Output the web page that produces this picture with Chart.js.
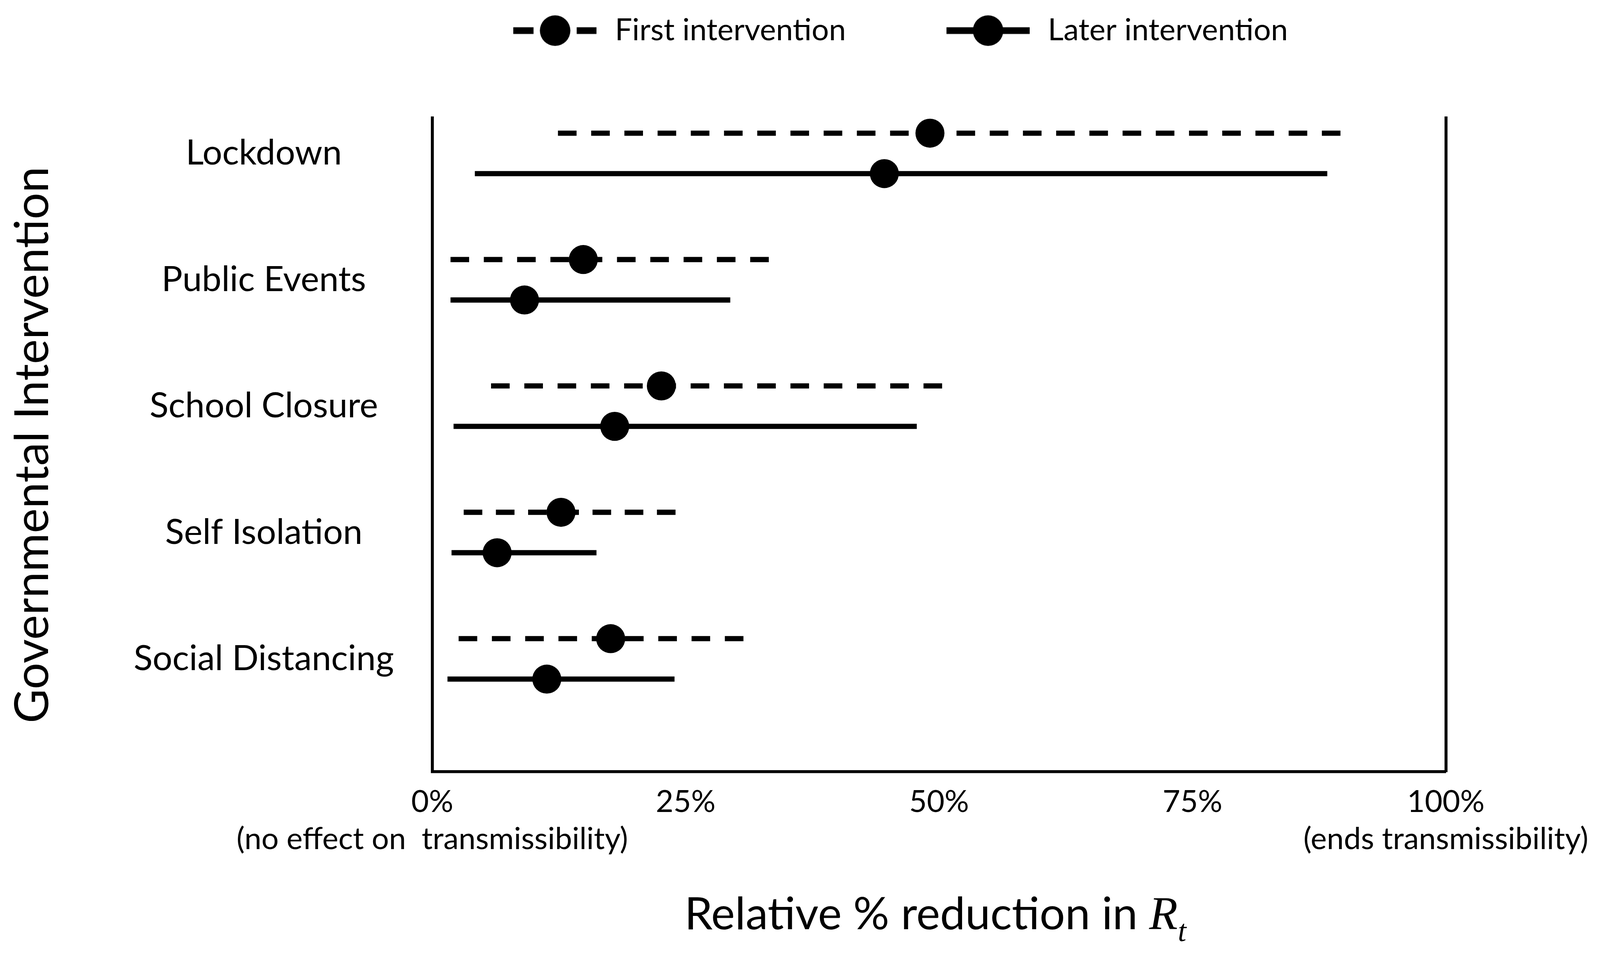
<!DOCTYPE html>
<html>
<head>
<meta charset="utf-8">
<title>Relative % reduction in Rt by governmental intervention</title>
<script src="https://cdn.jsdelivr.net/npm/chart.js@4.4.1/dist/chart.umd.min.js"></script>
<style>
  html, body { margin: 0; padding: 0; background: #fff; overflow: hidden; }
  canvas { display: block; }
</style>
</head>
<body>
<canvas id="rtChart"></canvas>
<script>
// Values (% reduction in Rt)
const categories = ['Lockdown', 'Public Events', 'School Closure', 'Self Isolation', 'Social Distancing'];
const seriesNames = ['First intervention', 'Later intervention'];
const firstMid  = [49.1, 14.9, 22.6, 12.7, 17.6];
const firstLow  = [12.4, 1.8, 5.8, 3.1, 2.6];
const firstHigh = [89.6, 33.2, 50.3, 24.0, 30.7];
const laterMid  = [44.6, 9.1, 18.0, 6.4, 11.3];
const laterLow  = [4.2, 1.8, 2.1, 1.9, 1.5];
const laterHigh = [88.3, 29.4, 47.8, 16.2, 23.9];
const xTickValues = [0, 25, 50, 75, 100];
const xTickText = ['0%', '25%', '50%', '75%', '100%'];
const xTickNotes = ['(no effect on  transmissibility)', '', '', '', '(ends transmissibility)'];
const yTitle = 'Governmental Intervention';
const xTitle = 'Relative % reduction in';

// layout measured on a 4301 x 2444 frame, scaled to the actual window
const W = window.innerWidth, H = window.innerHeight;
const kx = W / 4301, ky = H / 2444, kf = Math.min(kx, ky);
const PLOT = { left: 1162 * kx, right: 3900 * kx, top: 302 * ky, bottom: 1975 * ky };
const LEGEND_X = 1372 * kx, LEGEND_Y = 78 * ky;
const FONT = 'Lato';
const f = v => v * kf;
const DASH = [f(50), f(38)];

// each interval = low, mid, high, then a gap so the line breaks
function intervalPoints(low, mid, high, shift) {
  return categories.flatMap((c, i) => {
    const y = categories.length - i + shift;
    return [{ x: low[i], y }, { x: mid[i], y }, { x: high[i], y }, { x: high[i], y: null }];
  });
}

// stretch the gaps a little so each dashed interval starts and ends on a dash
function dashFor(c) {
  const i = Math.floor(c.p0DataIndex / 4);
  const x = c.chart.scales.x;
  const len = x.getPixelForValue(firstHigh[i]) - x.getPixelForValue(firstLow[i]);
  const n = Math.max(2, Math.round((len + DASH[1]) / (DASH[0] + DASH[1])));
  return [DASH[0], (len - n * DASH[0]) / (n - 1)];
}

// legend marker: line + dot
function legendIcon(dashed) {
  const c = document.createElement('canvas');
  c.width = f(224); c.height = f(90);
  const g = c.getContext('2d');
  g.fillStyle = '#000';
  if (dashed) {
    g.fillRect(0, f(36), f(54), f(18));
    g.fillRect(f(170), f(36), f(54), f(18));
  } else {
    g.fillRect(0, f(36), f(224), f(18));
  }
  g.beginPath();
  g.arc(f(112), f(45), f(41), 0, Math.PI * 2);
  g.fill();
  return c;
}
const legendIcons = [legendIcon(true), legendIcon(false)];

// move the legend to where it sits in the figure
const legendPlace = {
  id: 'legendPlace',
  afterLayout(chart) {
    const lg = chart.legend;
    const pad = lg.options.labels.padding;
    const size = lg.options.labels.font.size;
    const cur = (lg.left + pad + lg.right - lg.lineWidths[0]) / 2;
    const dx = LEGEND_X - cur;
    lg.left += dx;
    lg.right += dx;
    lg.top = LEGEND_Y - pad - size / 2;
  }
};

// x title with italic R and subscript t
const rtTitle = {
  id: 'rtTitle',
  afterDraw(chart) {
    const { ctx, chartArea } = chart;
    const base = chart.scales.x.bottom - 66 * ky;
    const main = xTitle + ' ';
    ctx.save();
    ctx.fillStyle = '#000';
    ctx.textBaseline = 'alphabetic';
    ctx.textAlign = 'left';
    ctx.font = f(121) + 'px ' + FONT;
    const w1 = ctx.measureText(main).width;
    ctx.font = 'italic ' + f(126) + 'px "Liberation Serif"';
    const w2 = ctx.measureText('R').width;
    ctx.font = 'italic ' + f(82) + 'px "Liberation Serif"';
    const w3 = ctx.measureText('t').width;
    let x = (chartArea.left + chartArea.right) / 2 - (w1 + w2 + w3) / 2 - f(10);
    ctx.font = f(121) + 'px ' + FONT;
    ctx.fillText(main, x, base);
    x += w1;
    ctx.font = 'italic ' + f(126) + 'px "Liberation Serif"';
    ctx.fillText('R', x, base);
    x += w2;
    ctx.font = 'italic ' + f(82) + 'px "Liberation Serif"';
    ctx.fillText('t', x, base + 30 * ky);
    ctx.restore();
  }
};

const pointSize = c => (c.dataIndex % 4 === 1 ? f(39) : 0);

const canvas = document.getElementById('rtChart');
canvas.width = W;
canvas.height = H;
const ctx = canvas.getContext('2d');
new Chart(ctx, {
  type: 'scatter',
  data: {
    datasets: [
      {
        label: seriesNames[0],
        data: intervalPoints(firstLow, firstMid, firstHigh, 0.16),
        showLine: true,
        borderColor: '#000',
        borderWidth: f(14),
        borderDash: DASH,
        segment: { borderDash: dashFor },
        pointRadius: pointSize,
        pointHoverRadius: pointSize,
        pointBackgroundColor: '#000',
        pointBorderWidth: 0,
      },
      {
        label: seriesNames[1],
        data: intervalPoints(laterLow, laterMid, laterHigh, -0.16),
        showLine: true,
        borderColor: '#000',
        borderWidth: f(14),
        pointRadius: pointSize,
        pointHoverRadius: pointSize,
        pointBackgroundColor: '#000',
        pointBorderWidth: 0,
      },
    ],
  },
  options: {
    responsive: false,
    animation: false,
    events: [],
    layout: { padding: { left: 0, top: 0, bottom: 0, right: W - PLOT.right } },
    scales: {
      x: {
        type: 'linear',
        min: 0,
        max: 100,
        afterBuildTicks: s => { s.ticks = xTickValues.map(v => ({ value: v })); },
        afterFit: s => { s.height = H - PLOT.bottom; },
        grid: { display: false, drawTicks: false },
        border: { display: true, color: '#000', width: f(8) },
        ticks: {
          autoSkip: false,
          maxRotation: 0,
          minRotation: 0,
          padding: 30 * ky,
          color: '#000',
          font: { family: FONT, size: f(82), lineHeight: 1.22 },
          callback: (v, i) => (xTickNotes[i] ? [xTickText[i], xTickNotes[i]] : xTickText[i]),
        },
      },
      y: {
        type: 'linear',
        position: 'left',
        min: 0.107,
        max: 5.28,
        afterBuildTicks: s => { s.ticks = categories.map((c, i) => ({ value: categories.length - i })); },
        afterFit: s => { s.width = PLOT.left; },
        grid: { display: false, drawTicks: false },
        border: { display: true, color: '#000', width: f(8) },
        ticks: {
          crossAlign: 'center',
          padding: 103 * kx,
          color: '#000',
          font: { family: FONT, size: f(94) },
          callback: v => categories[categories.length - v],
        },
        title: {
          display: true,
          text: yTitle,
          color: '#000',
          font: { family: FONT, size: 120 * ky, lineHeight: 1.2 },
          padding: { top: 16 * kx - (120 * ky - 120 * kx) * 0.6, bottom: 0 },
        },
      },
      yRight: {
        type: 'linear',
        position: 'right',
        min: 0.107,
        max: 5.28,
        afterFit: s => { s.width = 0; },
        grid: { display: false, drawTicks: false },
        border: { display: true, color: '#000', width: f(8) },
        ticks: { display: false },
      },
    },
    plugins: {
      tooltip: { enabled: false },
      title: { display: false },
      legend: {
        display: true,
        position: 'top',
        maxHeight: PLOT.top,
        labels: {
          usePointStyle: true,
          pointStyleWidth: f(240),
          padding: f(262),
          color: '#000',
          font: { family: FONT, size: f(82) },
          generateLabels: chart => chart.data.datasets.map((ds, i) => ({
            text: ds.label,
            pointStyle: legendIcons[i],
            datasetIndex: i,
            fontColor: '#000',
            fillStyle: '#000',
            strokeStyle: '#000',
            lineWidth: 0,
            hidden: false,
          })),
        },
      },
    },
  },
  plugins: [legendPlace, rtTitle],
});
</script>
</body>
</html>
